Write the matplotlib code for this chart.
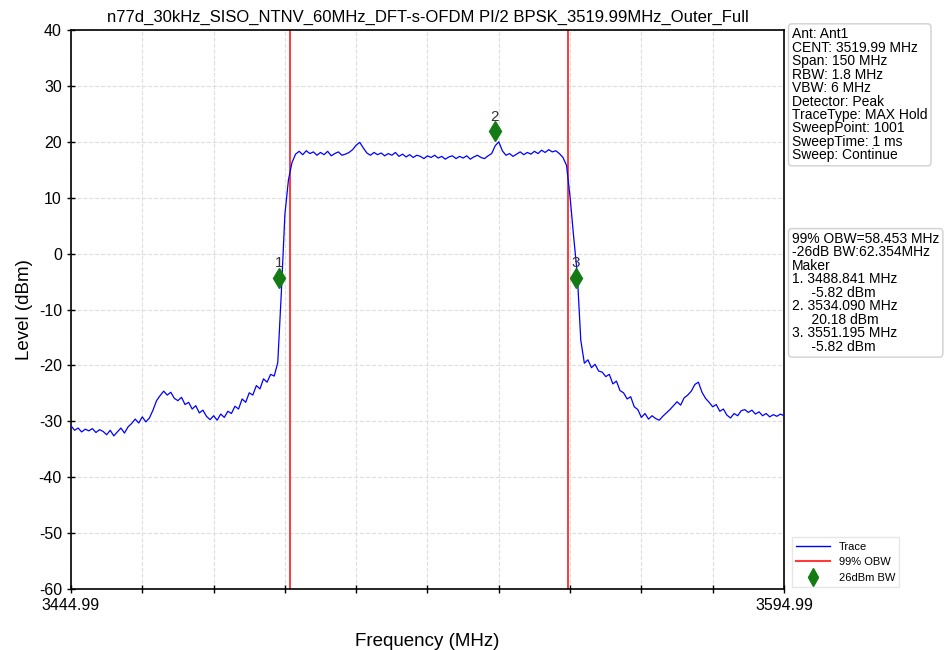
import numpy as np
import matplotlib
matplotlib.use("Agg")
import matplotlib.pyplot as plt
from matplotlib.lines import Line2D

plt.rcParams["font.family"] = ["Liberation Sans", "DejaVu Sans"]
plt.rcParams["axes.unicode_minus"] = False

# Spectrum settings
start_freq = 3444.99
stop_freq = 3594.99
step_mhz = 0.75

# Trace levels (dBm), one per 0.75 MHz from start_freq
trace_level = [
    -30.8, -31.6, -31.2, -31.9, -31.4, -31.7, -31.3, -32.0, -31.5, -31.8,
    -32.4, -31.6, -32.6, -31.9, -31.2, -32.1, -31.0, -30.4, -29.6, -30.3,
    -29.2, -30.1, -29.4, -28.0, -26.3, -25.4, -24.6, -25.3, -24.8, -25.9,
    -26.3, -25.7, -27.0, -26.6, -27.8, -27.2, -28.5, -28.0, -29.1, -29.7,
    -29.0, -29.8, -28.7, -29.3, -28.2, -28.6, -27.3, -27.8, -26.0, -26.6,
    -24.9, -25.3, -23.6, -24.2, -22.4, -23.0, -21.6, -21.9, -19.5, -7.0,
    7.0, 13.2, 16.3, 17.8, 18.3, 17.7, 18.4, 17.9, 18.2, 17.6,
    18.1, 17.7, 18.3, 17.5, 17.9, 18.2, 17.6, 17.8, 18.1, 18.6,
    19.4, 19.9, 18.9, 18.0, 17.6, 18.1, 17.7, 18.0, 17.5, 17.9,
    17.6, 18.1, 17.4, 17.8, 17.3, 17.7, 17.2, 17.6, 17.4, 17.0,
    17.5, 17.2, 17.6, 17.1, 17.4, 16.9, 17.3, 17.5, 17.0, 17.4,
    17.1, 17.5, 16.9, 17.3, 17.6, 17.2, 17.0, 17.5, 17.9, 19.3,
    20.0, 18.4, 17.6, 17.9, 17.4, 17.8, 18.2, 17.7, 18.1, 17.8,
    18.3, 17.9, 18.5, 18.1, 18.6, 18.2, 18.4, 17.9, 17.2, 15.8,
    10.1, 3.0, -3.5, -15.5, -19.6, -19.0, -20.4, -19.8, -21.0, -21.2,
    -22.0, -21.6, -23.3, -22.8, -24.5, -24.9, -26.0, -25.6, -27.4, -27.9,
    -29.3, -28.6, -29.6, -29.0, -29.5, -29.8, -29.1, -28.5, -27.9, -27.2,
    -26.5, -27.1, -25.8, -25.3, -24.6, -23.4, -23.0, -24.8, -25.9, -26.6,
    -27.4, -27.0, -28.2, -27.8, -28.9, -29.4, -28.6, -29.0, -28.1, -27.9,
    -28.4, -28.0, -28.7, -28.3, -29.0, -28.6, -29.2, -28.8, -29.1, -28.7,
    -29.0,
]

# 99% OBW edges (MHz)
obw_lines = [3491.0, 3549.5]

# Markers
marker_freq = [3488.841, 3534.090, 3551.195]
marker_level = [-4.3, 21.9, -4.3]
marker_names = ["1", "2", "3"]

title = "n77d_30kHz_SISO_NTNV_60MHz_DFT-s-OFDM PI/2 BPSK_3519.99MHz_Outer_Full"

settings_text = ("Ant: Ant1\nCENT: 3519.99 MHz\nSpan: 150 MHz\nRBW: 1.8 MHz\n"
                 "VBW: 6 MHz\nDetector: Peak\nTraceType: MAX Hold\n"
                 "SweepPoint: 1001\nSweepTime: 1 ms\nSweep: Continue")
result_text = ("99% OBW=58.453 MHz\n-26dB BW:62.354MHz\nMaker\n"
               "1. 3488.841 MHz\n     -5.82 dBm\n2. 3534.090 MHz\n     20.18 dBm\n"
               "3. 3551.195 MHz\n     -5.82 dBm")

freqs = start_freq + np.arange(len(trace_level)) * step_mhz

fig = plt.figure(figsize=(9.44, 6.5), dpi=100)
ax = fig.add_axes([0.0752, 0.0938, 0.7553, 0.86])

ax.plot(freqs, trace_level, color="#0000ff", linewidth=0.9, zorder=3)
for f in obw_lines:
    ax.axvline(f, color="#ff3a3a", linewidth=1.4, zorder=2)
ax.plot(marker_freq, marker_level, linestyle="none", marker="d",
        markersize=10, color="#147a14", zorder=4)
for f, lv, name in zip(marker_freq, marker_level, marker_names):
    ax.text(f, lv + 1.3, name, ha="center", va="bottom", fontsize=11, color="#333333")

ax.set_xlim(start_freq, stop_freq)
ax.set_ylim(-60, 40)
ax.set_xticks(np.linspace(start_freq, stop_freq, 11))
ax.set_xticklabels(["3444.99"] + [""] * 9 + ["3594.99"])
ax.set_yticks(np.arange(-60, 41, 10))
ax.tick_params(axis="both", direction="inout", length=6, labelsize=11.5, width=1)
ax.grid(True, color="#dedede", linestyle="--", linewidth=0.8)
for s in ax.spines.values():
    s.set_linewidth(1.2)

ax.set_title(title, fontsize=12, pad=6)
ax.set_xlabel("Frequency (MHz)", fontsize=13.5, labelpad=14)
ax.set_ylabel("Level (dBm)", fontsize=13.5, labelpad=4)

box = dict(boxstyle="round,pad=0.25", facecolor="white", edgecolor="#d0d0d0")
fig.text(0.839, 0.958, settings_text, fontsize=10, va="top", ha="left",
         linespacing=0.95, bbox=box)
fig.text(0.839, 0.643, result_text, fontsize=10, va="top", ha="left",
         linespacing=0.95, bbox=box)

handles = [
    Line2D([0], [0], color="#0000ff", linewidth=1),
    Line2D([0], [0], color="#ff3a3a", linewidth=1.5),
    Line2D([0], [0], linestyle="none", marker="d", markersize=9, color="#147a14"),
]
fig.legend(handles, ["Trace", "99% OBW", "26dBm BW"], loc="lower left",
           bbox_to_anchor=(0.833, 0.088), fontsize=8, frameon=True,
           edgecolor="#e0e0e0", fancybox=False, handlelength=3)

fig.savefig("out.png", dpi=100)
